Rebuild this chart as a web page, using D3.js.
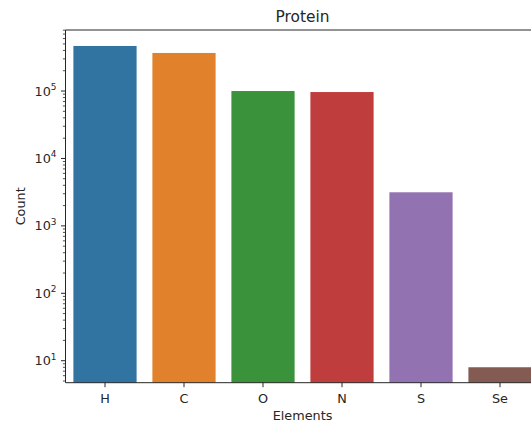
<!DOCTYPE html>
<html><head><meta charset="utf-8">
<script src="https://cdn.jsdelivr.net/npm/d3@7"></script>
<style>body{margin:0;background:#fff}svg{display:block}text{font-family:"DejaVu Sans",sans-serif;fill:#262626}</style>
</head><body>
<script>
const categories = ["H","C","O","N","S","Se"];
const counts = [466000, 367000, 100000, 96600, 3150, 8];
const colors = ["#3274a1","#e1812c","#3a923a","#c03d3e","#9372b2","#845b53"];
const yTickExps = [1,2,3,4,5];
const title = "Protein", xLabel = "Elements", yLabel = "Count";

const W = 531, H = 427;
const mLeft = 65.5, mRight = 539.5, mTop = 30, mBottom = 382.7;
const fs = 12.8, lw = 1;
const svg = d3.select("body").append("svg").attr("width", W).attr("height", H);

const x = d3.scaleBand().domain(categories).range([mLeft, mRight]).paddingInner(0.2).paddingOuter(0.1);
const y = d3.scaleLog().domain([4.72, 8.04e5]).range([mBottom, mTop]);

svg.selectAll("rect.bar").data(categories).enter().append("rect")
  .attr("x", d => x(d)).attr("width", x.bandwidth())
  .attr("y", (d,i) => y(counts[i])).attr("height", (d,i) => mBottom - y(counts[i]))
  .attr("fill", (d,i) => colors[i]);

// spines
const sp = svg.append("g").attr("stroke", "#262626").attr("stroke-width", lw);
sp.append("line").attr("x1", mLeft).attr("x2", mRight).attr("y1", mTop).attr("y2", mTop);
sp.append("line").attr("x1", mLeft).attr("x2", mRight).attr("y1", mBottom).attr("y2", mBottom);
sp.append("line").attr("x1", mLeft).attr("x2", mLeft).attr("y1", mTop).attr("y2", mBottom);
sp.append("line").attr("x1", mRight).attr("x2", mRight).attr("y1", mTop).attr("y2", mBottom);

// x axis
const xa = svg.append("g");
categories.forEach(c => {
  const cx = x(c) + x.bandwidth()/2;
  xa.append("line").attr("x1", cx).attr("x2", cx).attr("y1", mBottom).attr("y2", mBottom+4.5).attr("stroke","#262626").attr("stroke-width",lw);
  xa.append("text").attr("x", cx).attr("y", 403).attr("text-anchor","middle").attr("font-size",fs).text(c);
});

// y axis major
const ya = svg.append("g");
yTickExps.forEach(e => {
  const v = Math.pow(10, e), yy = y(v);
  ya.append("line").attr("x1", mLeft-4.5).attr("x2", mLeft).attr("y1", yy).attr("y2", yy).attr("stroke","#262626").attr("stroke-width",lw);
  const t = ya.append("text").attr("x", mLeft-9).attr("y", yy+4.5).attr("text-anchor","end").attr("font-size",fs);
  t.append("tspan").text("10");
  t.append("tspan").attr("dy", -5.5).attr("font-size", fs*0.7).text(String(e));
});
// minor ticks
const [d0, d1] = y.domain();
for (let e = 0; e <= 6; e++) {
  for (let m = 2; m <= 9; m++) {
    const v = m * Math.pow(10, e);
    if (v < d0 || v > d1) continue;
    const yy = y(v);
    ya.append("line").attr("x1", mLeft-2.6).attr("x2", mLeft).attr("y1", yy).attr("y2", yy).attr("stroke","#262626").attr("stroke-width",0.8);
  }
}

svg.append("text").attr("x", (mLeft+mRight)/2).attr("y", 22).attr("text-anchor","middle").attr("font-size",15.4).text(title);
svg.append("text").attr("x", (mLeft+mRight)/2).attr("y", 420).attr("text-anchor","middle").attr("font-size",fs).text(xLabel);
svg.append("text").attr("transform", `translate(25,${(mTop+mBottom)/2}) rotate(-90)`).attr("text-anchor","middle").attr("font-size",fs).text(yLabel);
</script>
</body></html>
